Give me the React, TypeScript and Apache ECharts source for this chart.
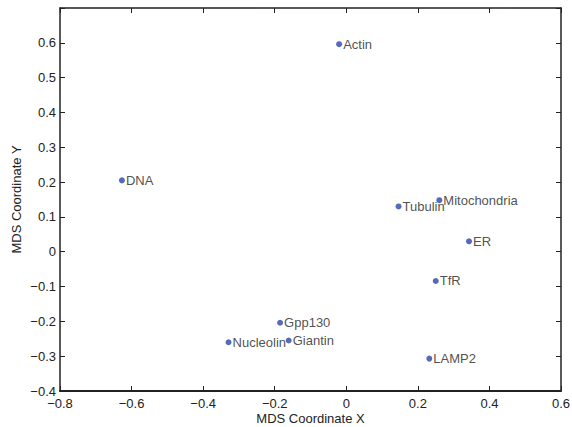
import React, { useEffect, useRef } from "react";
import * as echarts from "echarts";

const names = ["Actin", "DNA", "Tubulin", "Mitochondria", "ER", "TfR", "LAMP2", "Gpp130", "Giantin", "Nucleolin"];
const xs = [-0.02, -0.627, 0.146, 0.26, 0.343, 0.25, 0.232, -0.185, -0.161, -0.329];
const ys = [0.596, 0.205, 0.13, 0.148, 0.03, -0.084, -0.307, -0.204, -0.255, -0.26];

const xName = "MDS Coordinate X";
const yName = "MDS Coordinate Y";

const FONT = "'Liberation Sans', Arial, Helvetica, sans-serif";
const INK = "#222";

function fmt(v: number, hideTop?: number) {
  if (hideTop !== undefined && Math.abs(v - hideTop) < 1e-9) return "";
  if (Math.abs(v) < 1e-9) return "0";
  const s = v.toFixed(1);
  return s.replace("-", "\u2212");
}

export default function App() {
  const ref = useRef<HTMLDivElement>(null);
  useEffect(() => {
    if (!ref.current) return;
    const chart = echarts.init(ref.current, undefined, { renderer: "svg" });
    const lineStyle = { color: INK, width: 1.5 };
    const tick = { show: true, inside: true, length: 5, lineStyle: { color: INK, width: 1 } };
    chart.setOption({
      animation: false,
      backgroundColor: "#fff",
      grid: { left: 60, right: 11, top: 8, bottom: 36, containLabel: false, outerBoundsMode: "none" },
      xAxis: [
        {
          type: "value",
          position: "bottom",
          min: -0.8,
          max: 0.6,
          interval: 0.2,
          name: xName,
          nameLocation: "middle",
          nameGap: 21,
          nameMoveOverlap: false,
          nameTextStyle: { color: INK, fontSize: 13, lineHeight: 13, fontFamily: FONT },
          axisLine: { show: true, onZero: false, lineStyle: { color: INK, width: 2 } },
          axisTick: tick,
          axisLabel: { color: INK, fontSize: 13, lineHeight: 13, fontFamily: FONT, margin: 6, formatter: (v: number) => fmt(v) },
          splitLine: { show: false },
        },
        {
          type: "value",
          position: "top",
          min: -0.8,
          max: 0.6,
          interval: 0.2,
          axisLine: { show: true, onZero: false, lineStyle },
          axisTick: tick,
          axisLabel: { show: false },
          splitLine: { show: false },
        },
      ],
      yAxis: [
        {
          type: "value",
          position: "left",
          min: -0.4,
          max: 0.7,
          interval: 0.1,
          name: yName,
          nameLocation: "middle",
          nameGap: 37,
          nameMoveOverlap: false,
          nameTextStyle: { color: INK, fontSize: 13, lineHeight: 13, fontFamily: FONT },
          axisLine: { show: true, onZero: false, lineStyle },
          axisTick: tick,
          axisLabel: { color: INK, fontSize: 13, fontFamily: FONT, margin: 4, formatter: (v: number) => fmt(v, 0.7) },
          splitLine: { show: false },
        },
        {
          type: "value",
          position: "right",
          min: -0.4,
          max: 0.7,
          interval: 0.1,
          axisLine: { show: true, onZero: false, lineStyle },
          axisTick: tick,
          axisLabel: { show: false },
          splitLine: { show: false },
        },
      ],
      series: [
        {
          type: "scatter",
          xAxisIndex: 0,
          yAxisIndex: 0,
          symbol: "circle",
          symbolSize: 6,
          itemStyle: { color: "#2a46a6" },
          data: names.map((n, i) => ({ name: n, value: [xs[i], ys[i]] })),
          label: {
            show: true,
            position: "right",
            distance: 1,
            color: INK,
            fontSize: 13,
            fontFamily: FONT,
            formatter: (p: any) => p.name,
          },
        },
      ],
    });
    return () => chart.dispose();
  }, []);
  return <div ref={ref} style={{ position: "fixed", left: 0, top: 0, width: 572, height: 427 }} />;
}
